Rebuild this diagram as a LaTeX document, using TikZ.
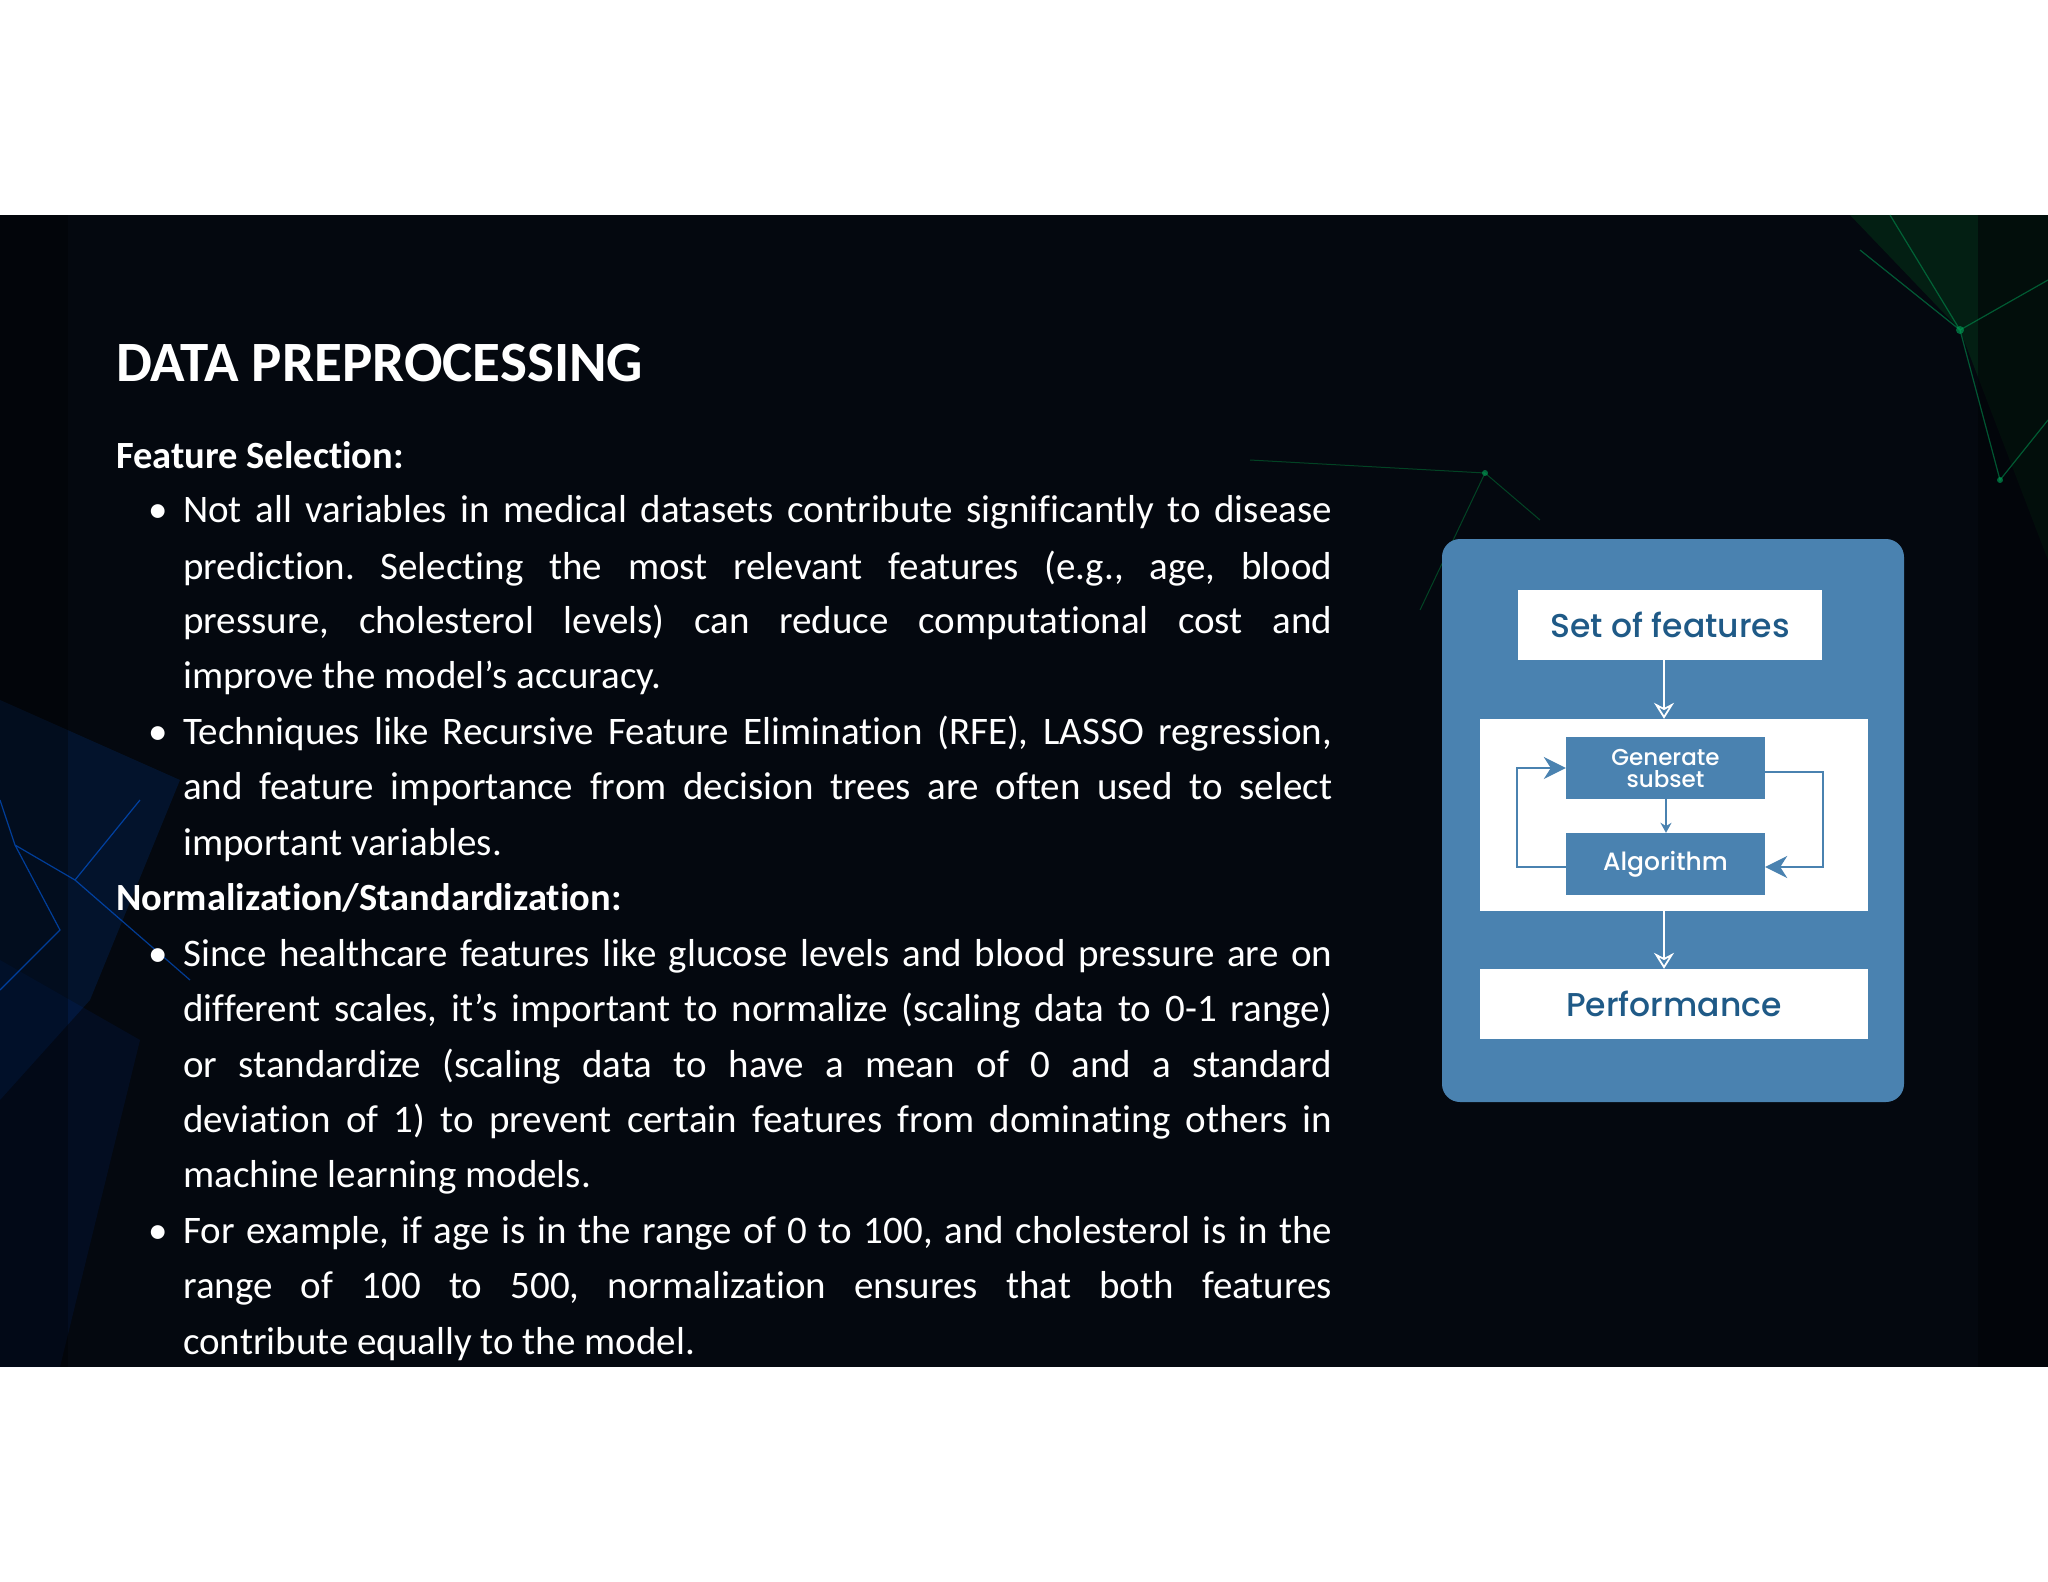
\documentclass[tikz,border=0pt]{standalone}
\usepackage{fontspec}
\setmainfont{Carlito}[Ligatures=NoCommon]
\newfontfamily\diag{Poppins Medium}
\usetikzlibrary{arrows.meta}
\definecolor{bgd}{HTML}{04080F}
\definecolor{boxb}{HTML}{4A82B0}
\definecolor{txtb}{HTML}{1F5A87}
\tikzset{
 tl/.style={anchor=base west,inner sep=0pt,text=white,font=\fontsize{39}{46}\selectfont},
 hd/.style={tl,font=\fontsize{38.5}{46}\selectfont\bfseries},
 bul/.style={tl},
 wbox/.style={fill=white,draw=none,inner sep=0pt},
 ibox/.style={fill=boxb,draw=none,inner sep=0pt,text=white,font=\diag\fontsize{23}{25}\selectfont,align=center},
 wtxt/.style={text=txtb,font=\diag\fontsize{33}{38}\selectfont},
 warr/.style={draw=white,line width=1.8pt,-{Stealth[length=16pt,width=20pt,open]}},
 barr/.style={draw=boxb,line width=1.8pt,-{Stealth[length=22pt,width=22pt,inset=7pt]}},
}
\newcommand\jl[3]{\node[tl] (#1) at (183,#2) {\frenchspacing\makebox[1149pt][s]{#3}};}
\newcommand\pl[3]{\node[tl] (#1) at (183,#2) {#3};}
\begin{document}
\begin{tikzpicture}[x=1pt,y=-1pt]
\useasboundingbox (0,0) rectangle (2048,1582);
\fill[white] (0,0) rectangle (2048,1582);
\fill[bgd] (0,215) rectangle (2048,1367);
% soft background glows
\fill[blue!60!cyan,opacity=0.12] (0,700) -- (180,780) -- (90,1000) -- (0,1100) -- cycle;
\fill[blue!70!cyan,opacity=0.08] (0,960) -- (140,1040) -- (60,1367) -- (0,1367) -- cycle;
\fill[green!60!teal,opacity=0.12] (1850,215) -- (2048,215) -- (2048,560) -- (1960,330) -- cycle;
\fill[black!50!bgd,opacity=0.6] (1978,215) rectangle (2048,1367);
\fill[black,opacity=0.3] (0,215) rectangle (68,1367);
\draw[teal!70!green,opacity=0.5,line width=1.2pt] (1860,250) -- (1960,330) -- (2048,280) (1960,330) -- (2000,480) -- (2048,420) (1960,330) -- (1890,215);
\draw[teal!60!green,opacity=0.35,line width=1pt] (1250,460) -- (1485,473) -- (1540,520) (1485,473) -- (1420,610);
\draw[blue!60!cyan,opacity=0.55,line width=1.2pt] (0,800) -- (15,845) -- (75,880) -- (140,800) (15,845) -- (60,930) -- (0,990) (75,880) -- (190,980);
\fill[teal!70!green,opacity=0.6] (1960,330) circle (4) (1485,473) circle (3) (2000,480) circle (3);
% title and text
\node[tl,font=\fontsize{57}{60}\selectfont\bfseries] (title) at (116,381) {DATA PREPROCESSING};
\node[hd] (fs) at (116,468) {Feature Selection:};
\node[bul] (b1) at (148,522) {•};
\jl{a1}{522}{Not all variables in medical datasets contribute significantly to disease}
\jl{a2}{579}{prediction. Selecting the most relevant features (e.g., age, blood}
\jl{a3}{633}{pressure, cholesterol levels) can reduce computational cost and}
\pl{a4}{688}{improve the model’s accuracy.}
\node[bul] (b2) at (148,744) {•};
\jl{c1}{744}{Techniques like Recursive Feature Elimination (RFE), LASSO regression,}
\jl{c2}{799}{and feature importance from decision trees are often used to select}
\pl{c3}{855}{important variables.}
\node[hd] (ns) at (116,910) {Normalization/Standardization:};
\node[bul] (b3) at (148,966) {•};
\jl{d1}{966}{Since healthcare features like glucose levels and blood pressure are on}
\jl{d2}{1021}{different scales, it’s important to normalize (scaling data to 0-1 range)}
\jl{d3}{1077}{or standardize (scaling data to have a mean of 0 and a standard}
\jl{d4}{1132}{deviation of 1) to prevent certain features from dominating others in}
\pl{d5}{1187}{machine learning models.}
\node[bul] (b4) at (148,1243) {•};
\jl{e1}{1243}{For example, if age is in the range of 0 to 100, and cholesterol is in the}
\jl{e2}{1298}{range of 100 to 500, normalization ensures that both features}
\pl{e3}{1354}{contribute equally to the model.}
% diagram
\fill[boxb,rounded corners=18pt] (1442,539) rectangle (1904,1102);
\node[wbox,minimum width=304pt,minimum height=70pt,wtxt] (set) at (1670,625) {Set of features};
\node[wbox,minimum width=388pt,minimum height=192pt] (mid) at (1674,815) {};
\node[wbox,minimum width=388pt,minimum height=70pt,wtxt] (perf) at (1674,1004) {Performance};
\node[ibox,minimum width=199pt,minimum height=62pt] (gen) at (1665.5,768) {Generate\\[-3pt]subset};
\node[ibox,minimum width=199pt,minimum height=62pt,font=\diag\fontsize{25}{28}\selectfont] (alg) at (1665.5,864) {Algorithm};
\draw[warr] (set.south -| 1664,0) -- (mid.north -| 1664,0);
\draw[warr] (mid.south -| 1664,0) -- (perf.north -| 1664,0);
\draw[barr,-{Stealth[length=10pt,width=11pt]}] (gen.south -| 1666,0) -- (alg.north -| 1666,0);
\draw[barr] ([yshift=-3pt]alg.west) -| (1517,768) -- (gen.west);
\draw[barr] ([yshift=-4pt]gen.east) -| (1823,867) -- ([yshift=-3pt]alg.east);
\end{tikzpicture}
\end{document}
